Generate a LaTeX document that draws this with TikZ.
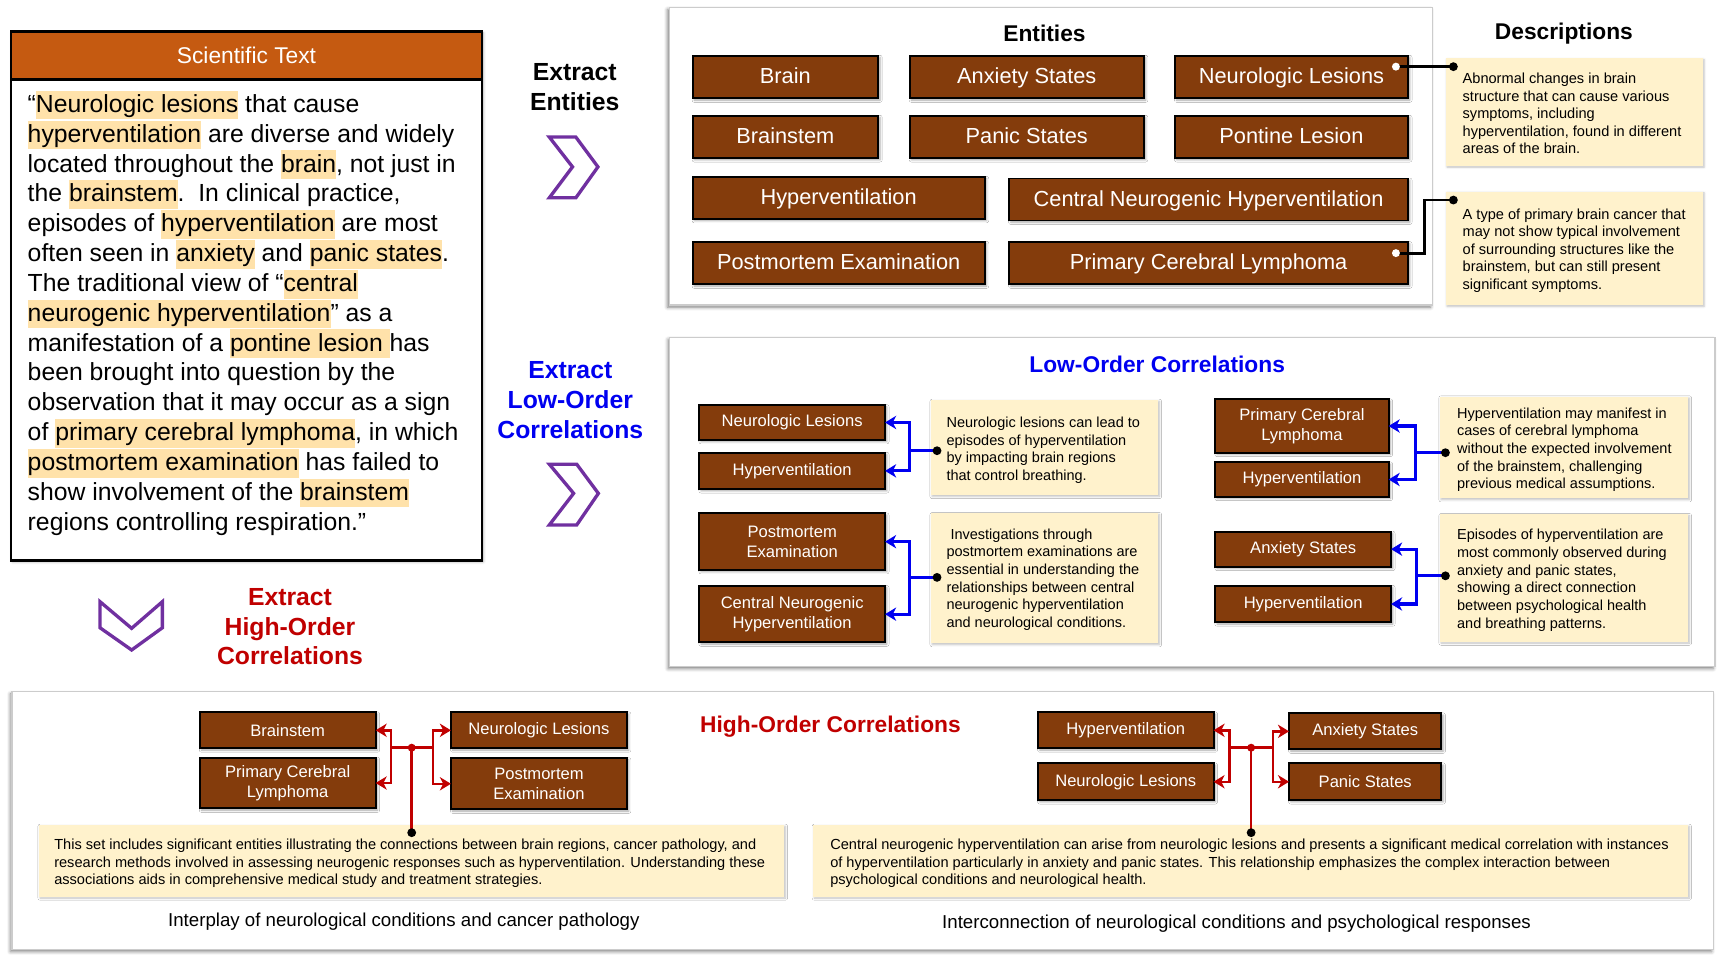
\documentclass[tikz,border=0pt]{standalone}
\usepackage{fontspec}
\setmainfont{Liberation Sans}
\usetikzlibrary{arrows.meta,shadows.blur}
\definecolor{ebrown}{HTML}{843C0C}
\definecolor{hdr}{HTML}{C55A11}
\definecolor{hlc}{HTML}{FFE2AA}
\definecolor{descc}{HTML}{FFF2CC}
\definecolor{pur}{HTML}{7030A0}
\definecolor{dred}{HTML}{C00000}
\definecolor{blu}{HTML}{0000F0}
\newcommand\hlt[1]{{\setlength{\fboxsep}{0pt}\colorbox{hlc}{\rule[-3.2pt]{0pt}{13pt}#1}}}
\newcommand\bx[7][]{\node[#1,inner sep=0pt,outer sep=0pt,minimum width={(#5-#3)*0.5pt},minimum height={(#6-#4)*0.5pt}] (#2) at ({(#3+#5)/2},{(#4+#6)/2}) {#7};}
\tikzset{
  ent/.style={draw=black,line width=0.9pt,fill=ebrown,text=white,font=\fontsize{9.85}{11}\selectfont,
    text height=6.9pt,text depth=1pt,
    blur shadow={shadow xshift=0.8pt,shadow yshift=-0.8pt,shadow blur radius=1pt,shadow opacity=35}},
  sent/.style={draw=black,line width=0.9pt,fill=ebrown,text=white,font=\fontsize{7.5}{9}\selectfont,align=center,
    blur shadow={shadow xshift=0.8pt,shadow yshift=-0.8pt,shadow blur radius=1pt,shadow opacity=35}},
  panel/.style={draw=gray!40,line width=0.6pt,fill=white,
    blur shadow={shadow xshift=-0.8pt,shadow yshift=-1pt,shadow blur radius=1.5pt,shadow opacity=50}},
  descb/.style={fill=descc,blur shadow={shadow xshift=0.6pt,shadow yshift=-0.6pt,shadow blur radius=1pt,shadow opacity=25}},
  dtext/.style={anchor=north west,inner sep=0pt,align=left,font=\fontsize{6.6}{7.9}\selectfont},
  ltext/.style={anchor=north west,inner sep=0pt,align=left,font=\fontsize{6.56}{8}\selectfont},
  htext/.style={anchor=north west,inner sep=0pt,align=left,font=\fontsize{6.6}{8}\selectfont},
  chev/.style={draw=pur,line width=1.5pt,fill=white,line join=miter},
  ptitle/.style={font=\bfseries\fontsize{10.3}{12}\selectfont},
  xlab/.style={font=\bfseries\fontsize{11.2}{13.5}\selectfont,align=center},
  blk/.style={line width=1.3pt,black},
  bluec/.style={line width=1.4pt,blu},
  redc/.style={line width=1.1pt,dred},
  tips/.style={{Stealth[length=5pt,width=6pt,inset=1.5pt]}-{Stealth[length=5pt,width=6pt,inset=1.5pt]}},
  captxt/.style={font=\fontsize{8.45}{10}\selectfont}
}
\begin{document}
\begin{tikzpicture}[x=0.5pt,y=-0.5pt]
\useasboundingbox (0,0) rectangle (1568,873);
% ---------- Scientific text ----------
\bx[draw=black,line width=1.2pt,fill=white,blur shadow={shadow xshift=0.6pt,shadow yshift=-0.6pt,shadow blur radius=1.2pt,shadow opacity=35}]{sbox}{10}{28.6}{436}{507}{}
\bx[draw=black,line width=1.2pt,fill=hdr,text=white,font=\fontsize{10.3}{12}\selectfont]{shdr}{10}{28.6}{436}{72}{Scientific Text}
\node[anchor=north west,inner sep=0pt,align=left,font=\fontsize{11.2}{13.5}\selectfont] (stext) at (24.7,81.7) {%
“\hlt{Neurologic lesions} that cause\\
\hlt{hyperventilation} are diverse and widely\\
located throughout the \hlt{brain}, not just in\\
the \hlt{brainstem}.\ \ In clinical practice,\\
episodes of \hlt{hyperventilation} are most\\
often seen in \hlt{anxiety} and \hlt{panic states}.\\
The traditional view of “\hlt{central}\\
\hlt{neurogenic hyperventilation}” as a\\
manifestation of a \hlt{pontine lesion }has\\
been brought into question by the\\
observation that it may occur as a sign\\
of \hlt{primary cerebral lymphoma}, in which\\
\hlt{postmortem examination} has failed to\\
show involvement of the \hlt{brainstem}\\
regions controlling respiration.”};
% ---------- Extract labels and chevrons ----------
\node[xlab] (xent) at (520,78.5) {Extract\\Entities};
\node[xlab,text=blu] (xlow) at (516,362) {Extract\\Low-Order\\Correlations};
\node[xlab,text=dred] (xhigh) at (262.4,567) {Extract\\High-Order\\Correlations};
\draw[chev] (497,124) -- (521,124) -- (541,151) -- (521,179) -- (497,179) -- (518,151) -- cycle;
\draw[chev] (497,420) -- (521.8,420) -- (541.4,446.4) -- (521.8,475) -- (497,475) -- (519,446.4) -- cycle;
\draw[chev] (90.5,544.4) -- (119.1,568.5) -- (146.9,544.4) -- (146.9,568) -- (119.1,588.1) -- (90.5,568) -- cycle;
% ---------- Entities panel ----------
\bx[panel]{pent}{605.5}{6.6}{1296}{276}{}
\node[ptitle] (tent) at (945,30) {Entities};
\node[ptitle] (tdesc) at (1415,30.2) {Descriptions};
\bx[ent]{eb1}{626.6}{50.4}{794.6}{89}{Brain}
\bx[ent]{eb2}{823}{50.4}{1035}{89}{Anxiety States}
\bx[ent]{eb3}{1063}{50.4}{1274}{89}{Neurologic Lesions}
\bx[ent]{eb4}{626.6}{104.7}{794.6}{143}{Brainstem}
\bx[ent]{eb5}{823}{104.7}{1035}{143}{Panic States}
\bx[ent]{eb6}{1063}{104.7}{1274}{143}{Pontine Lesion}
\bx[ent]{eb7}{626.6}{160}{891}{198}{Hyperventilation}
\bx[ent]{eb8}{913}{161.5}{1274}{199.5}{Central Neurogenic Hyperventilation}
\bx[ent]{eb9}{626.6}{218.7}{891}{257.3}{Postmortem Examination}
\bx[ent]{eb10}{913}{219}{1274}{257.3}{Primary Cerebral Lymphoma}
\bx[descb]{dsc1}{1308}{52.8}{1540.6}{150}{}
\bx[descb]{dsc2}{1308}{173.4}{1540.6}{276}{}
\node[dtext] (dsc1t) at (1323,66) {Abnormal changes in brain\\structure that can cause various\\symptoms, including\\hyperventilation, found in different\\areas of the brain.};
\node[dtext] (dsc2t) at (1323,188.6) {A type of primary brain cancer that\\may not show typical involvement\\of surrounding structures like the\\brainstem, but can still present\\significant symptoms.};
\coordinate (w1) at (1263,60.3);
\coordinate (k1) at (1315,60.3);
\coordinate (w2) at (1263,229);
\coordinate (k2) at (1315,181);
\draw[blk] (w1) -- (k1);
\draw[blk] (w2) -- ++(26,0) |- (k2);
\fill[white] (w1) circle (1.8pt);
\fill[white] (w2) circle (1.8pt);
\fill (k1) circle (2pt);
\fill (k2) circle (2pt);
% ---------- Low-order panel ----------
\bx[panel]{plo}{606}{305.2}{1551.7}{603}{}
\node[ptitle,text=blu] (tlo) at (1047,330) {Low-Order Correlations};
\bx[sent]{la1}{632.7}{366.5}{800.8}{398}{Neurologic Lesions}
\bx[sent]{la2}{632.7}{409.6}{800.8}{442.5}{Hyperventilation}
\bx[sent]{lb1}{632.7}{464.5}{800.8}{515.7}{Postmortem\\Examination}
\bx[sent]{lb2}{632.7}{530.2}{800.8}{581.2}{Central Neurogenic\\Hyperventilation}
\bx[sent]{lc1}{1099.6}{361.3}{1256.4}{409.6}{Primary Cerebral\\Lymphoma}
\bx[sent]{lc2}{1099.6}{418.3}{1256.4}{449.4}{Hyperventilation}
\bx[sent]{ld1}{1099.6}{481}{1258.6}{512.7}{Anxiety States}
\bx[sent]{ld2}{1099.6}{530}{1258.6}{563}{Hyperventilation}
\bx[descb]{ldsa}{842.2}{362}{1047.8}{448}{}
\bx[descb]{ldsb}{842.2}{464.5}{1047.8}{582}{}
\bx[descb]{ldsc}{1302.6}{358.9}{1527.3}{450.9}{}
\bx[descb]{ldsd}{1302.6}{465.4}{1527.3}{580.6}{}
\node[ltext] (ldsat) at (856,377) {Neurologic lesions can lead to\\episodes of hyperventilation\\by impacting brain regions\\that control breathing.};
\node[ltext] (ldsbt) at (856,478) {\ Investigations through\\postmortem examinations are\\essential in understanding the\\relationships between central\\neurogenic hyperventilation\\and neurological conditions.};
\node[ltext] (ldsct) at (1318,368.4) {Hyperventilation may manifest in\\cases of cerebral lymphoma\\without the expected involvement\\of the brainstem, challenging\\previous medical assumptions.};
\node[ltext] (ldsdt) at (1318,478.5) {Episodes of hyperventilation are\\most commonly observed during\\anxiety and panic states,\\showing a direct connection\\between psychological health\\and breathing patterns.};
\draw[bluec,tips] (la1.east) -- ++(22.2,0) |- (la2.east);
\draw[bluec,tips] (lb1.east) -- ++(22.2,0) |- (lb2.east);
\draw[bluec,tips] (lc1.east) -- ++(24.6,0) |- (lc2.east);
\draw[bluec,tips] (ld1.east) -- ++(23.4,0) |- (ld2.east);
\coordinate (lja) at (823,407.8);   \coordinate (lka) at (847.8,407.8);
\coordinate (ljb) at (823,522.4);   \coordinate (lkb) at (847.8,522.4);
\coordinate (ljc) at (1281,409.6);  \coordinate (lkc) at (1307.8,409.6);
\coordinate (ljd) at (1282,521);    \coordinate (lkd) at (1307.8,521);
\draw[bluec] (lja) -- (lka);
\draw[bluec] (ljb) -- (lkb);
\draw[bluec] (ljc) -- (lkc);
\draw[bluec] (ljd) -- (lkd);
\fill (lka) circle (2pt);
\fill (lkb) circle (2pt);
\fill (lkc) circle (2pt);
\fill (lkd) circle (2pt);
% ---------- High-order panel ----------
\bx[panel]{pho}{11}{625.8}{1550.3}{859}{}
\node[ptitle,text=dred] (tho) at (751.4,657.5) {High-Order Correlations};
\bx[sent]{ha1}{180.7}{644.5}{339.9}{677}{Brainstem}
\bx[sent]{ha2}{180.7}{685.5}{339.9}{731.4}{Primary Cerebral\\Lymphoma}
\bx[sent]{ha3}{408}{644.5}{567.3}{677}{Neurologic Lesions}
\bx[sent]{ha4}{408}{686}{567.3}{732.3}{Postmortem\\Examination}
\bx[sent]{hb1}{939.2}{644.5}{1098}{677}{Hyperventilation}
\bx[sent]{hb2}{939.2}{690.7}{1098}{723.9}{Neurologic Lesions}
\bx[sent]{hb3}{1166.3}{645.4}{1304.2}{678}{Anxiety States}
\bx[sent]{hb4}{1166.3}{690.7}{1304.2}{723.9}{Panic States}
\bx[descb]{hda}{35.1}{746.5}{709.4}{811.3}{}
\bx[descb]{hdb}{735.6}{746.5}{1527.2}{811.3}{}
\node[htext] (hdat) at (48.7,758.7) {This set includes significant entities illustrating the connections between brain regions, cancer pathology, and\\research methods involved in assessing neurogenic responses such as hyperventilation. Understanding these\\associations aids in comprehensive medical study and treatment strategies.};
\node[htext] (hdbt) at (750.8,758.7) {Central neurogenic hyperventilation can arise from neurologic lesions and presents a significant medical correlation with instances\\of hyperventilation particularly in anxiety and panic states. This relationship emphasizes the complex interaction between\\psychological conditions and neurological health.};
\draw[redc,tips] (ha1.east) -- ++(14.1,0) |- (ha2.east);
\draw[redc,tips] (ha3.west) -- ++(-16.4,0) |- (ha4.west);
\draw[redc,tips] (hb1.east) -- ++(14.6,0) |- (hb2.east);
\draw[redc,tips] (hb3.west) -- ++(-14.5,0) |- (hb4.west);
\coordinate (hjal) at (354,676.5);    \coordinate (hjar) at (391.6,676.5);
\coordinate (hja) at (372.5,676.5);   \coordinate (hka) at (372.5,753.4);
\coordinate (hjbl) at (1112.6,676.5); \coordinate (hjbr) at (1151.8,676.5);
\coordinate (hjb) at (1132,676.5);    \coordinate (hkb) at (1132,753.4);
\draw[redc] (hjal) -- (hjar);
\draw[redc] (hja) -- (hka);
\draw[redc] (hjbl) -- (hjbr);
\draw[redc] (hjb) -- (hkb);
\fill[dred] (hja) circle (1.8pt);
\fill[dred] (hjb) circle (1.8pt);
\fill (hka) circle (2pt);
\fill (hkb) circle (2pt);
\node[captxt] (capa) at (365.4,833.5) {Interplay of neurological conditions and cancer pathology};
\node[captxt] (capb) at (1118.8,836) {Interconnection of neurological conditions and psychological responses};
\end{tikzpicture}
\end{document}
